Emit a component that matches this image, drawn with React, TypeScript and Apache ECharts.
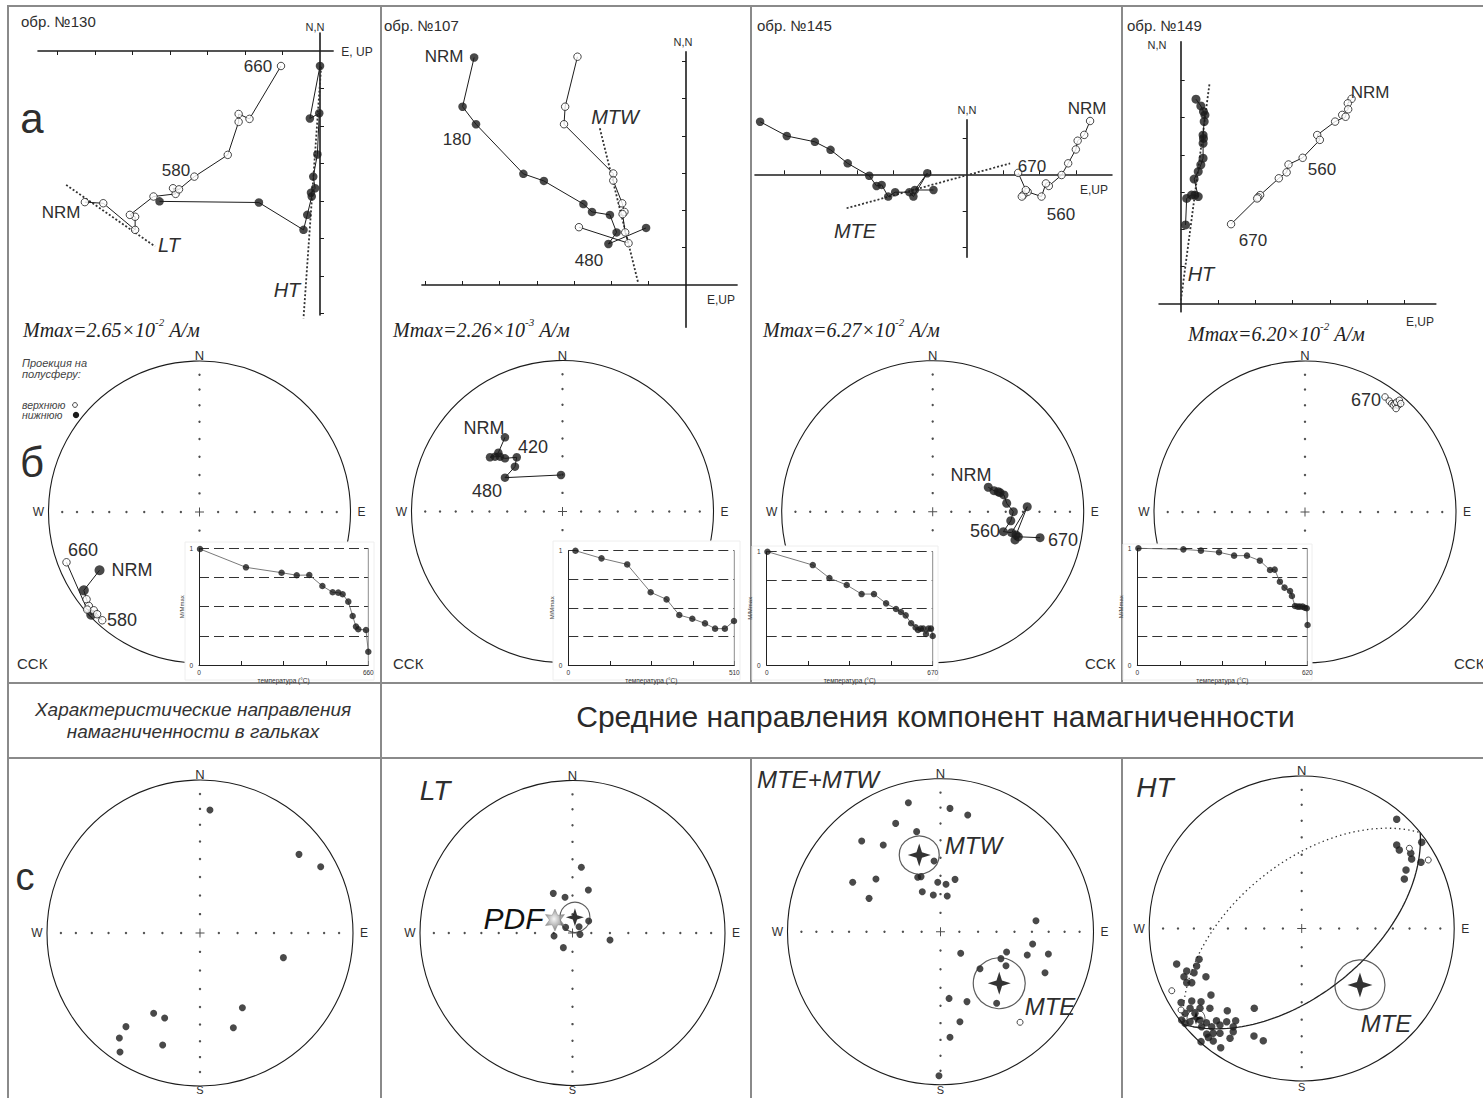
import React, { useEffect, useRef } from 'react';
import * as echarts from 'echarts';

/* ======================= DATA ======================= */
const sampleLabels = ['обр. №130', 'обр. №107', 'обр. №145', 'обр. №149'];
const mmaxMantissa = ['2.65', '2.26', '6.27', '6.20'];
const mmaxExponent = ['-2', '-3', '-2', '-2'];

// Zijderveld diagrams, tick units: x = E (filled) / UP (open), y = N
const zij130Filled = [[-4.28,-4.01],[-1.63,-4.04],[-0.44,-4.77],[-0.34,-4.37],[-0.22,-3.88],[-0.24,-3.78],[-0.13,-3.66],[-0.18,-3.35],[-0.07,-2.76],[-0.02,-1.66],[-0.27,-1.80],[0,-0.40]];
const zij130Open = [[-6.27,-4.03],[-5.78,-4.06],[-4.93,-4.77],[-4.93,-4.42],[-5.07,-4.37],[-4.44,-3.88],[-3.85,-3.81],[-3.92,-3.66],[-3.76,-3.69],[-3.35,-3.35],[-2.46,-2.77],[-2.17,-1.89],[-2.17,-1.68],[-1.88,-1.81],[-1.04,-0.40]];
const zij130FitLT = [[-6.77,-3.57],[-4.40,-5.21]];
const zij130FitHT = [[0.03,-0.42],[-0.44,-7.13]];
const zij130TicksE = [-7,-6,-5,-4,-3,-2,-1];
const zij130TicksN = [-7,-6,-5,-4,-3,-2,-1];

const zij107Filled = [[-5.68,6.10],[-5.99,4.78],[-5.63,4.31],[-4.36,2.98],[-3.81,2.79],[-2.75,2.17],[-2.52,1.96],[-2.04,1.88],[-1.86,1.41],[-2.08,1.10],[-1.07,1.53]];
const zij107Open = [[-2.91,6.12],[-3.24,4.78],[-3.27,4.31],[-1.95,2.99],[-1.95,2.80],[-1.71,2.19],[-1.65,1.96],[-1.70,1.90],[-1.63,1.41],[-1.54,1.12],[-2.87,1.55]];
const zij107FitMTW = [[-2.31,4.20],[-1.28,0.05]];
const zij107TicksE = [-7,-6,-5,-4,-3,-2,-1];
const zij107TicksN = [1,2,3,4,5,6];

const zij145Filled = [[-5.66,1.44],[-4.93,1.05],[-4.16,0.89],[-3.73,0.67],[-3.26,0.30],[-2.67,-0.04],[-2.47,-0.32],[-2.33,-0.29],[-2.15,-0.61],[-1.96,-0.49],[-1.57,-0.49],[-1.46,-0.61],[-1.08,0.03],[-1.42,-0.43],[-0.91,-0.43]];
const zij145Open = [[3.38,1.46],[3.22,1.08],[3.04,0.92],[2.99,0.68],[2.78,0.30],[2.60,-0.02],[2.25,-0.32],[2.17,-0.25],[2.05,-0.61],[1.67,-0.48],[1.55,-0.57],[1.51,-0.61],[1.62,-0.43],[1.41,0.04]];
const zij145FitMTE = [[-3.29,-0.93],[1.19,0.30]];
const zij145TicksE = [-5,-4,-3,-2,-1,1,2,3];
const zij145TicksN = [-2,-1,1];

const zij149Filled = [[0.41,5.49],[0.54,5.31],[0.61,5.16],[0.65,5.07],[0.63,4.89],[0.60,4.53],[0.61,4.44],[0.60,4.31],[0.60,3.91],[0.54,3.73],[0.47,3.55],[0.36,3.35],[0.47,2.88],[0.38,2.92],[0.29,2.92],[0.16,2.83],[0.13,2.12]];
const zij149Open = [[4.58,5.50],[4.48,5.38],[4.49,5.22],[4.33,5.07],[4.42,5.02],[4.14,4.89],[3.66,4.53],[3.73,4.40],[3.27,3.92],[2.89,3.74],[2.84,3.53],[2.63,3.37],[2.13,2.92],[2.08,2.86],[2.05,2.83],[1.35,2.14]];
const zij149FitHT = [[0.77,5.89],[0,0.06]];
const zij149TicksE = [1,2,3,4,5,6];
const zij149TicksN = [1,2,3,4,5,6];

// Stereonet steps (net radii): [x(E), y(N), hemisphere 1 = lower/filled, 0 = upper/open]
const net130Steps = [[-0.662,-0.386,1],[-0.766,-0.519,1],[-0.748,-0.578,0],[-0.733,-0.622,0],[-0.717,-0.680,1],[-0.700,-0.651,0],[-0.678,-0.677,0],[-0.644,-0.717,0],[-0.744,-0.646,0],[-0.881,-0.333,0]];
const net107Steps = [[-0.381,0.491,1],[-0.425,0.389,1],[-0.480,0.359,1],[-0.447,0.363,1],[-0.414,0.363,1],[-0.381,0.352,1],[-0.303,0.359,1],[-0.315,0.297,1],[-0.381,0.224,1],[-0.010,0.242,1]];
const net145Steps = [[0.368,0.162,1],[0.406,0.139,1],[0.434,0.132,1],[0.446,0.126,1],[0.472,0.111,1],[0.490,0.056,1],[0.534,0.0,1],[0.517,-0.060,1],[0.468,-0.132,1],[0.523,-0.139,1],[0.626,0.033,1],[0.552,-0.154,1],[0.545,-0.187,1],[0.567,-0.166,1],[0.711,-0.172,1]];
const net149Steps = [[0.530,0.762,0],[0.558,0.735,0],[0.574,0.718,0],[0.585,0.707,0],[0.596,0.718,0],[0.618,0.707,0],[0.607,0.728,0],[0.625,0.740,0],[0.634,0.718,0],[0.603,0.685,0]];

// Thermal demagnetisation curves: temperature (°C) and M/Mmax
const demagMaxTemp = [660, 510, 670, 620];
const demag130T = [4,183,322,381,430,481,521,543,560,582,599,612,621,651,660];
const demag130M = [0.994,0.837,0.791,0.769,0.771,0.677,0.623,0.62,0.606,0.543,0.42,0.329,0.306,0.30,0.114];
const demag107T = [22,102,181,253,302,341,381,420,451,481,509];
const demag107M = [1.0,0.933,0.88,0.636,0.574,0.437,0.405,0.364,0.318,0.318,0.385];
const demag145T = [3,186,253,323,383,433,482,522,542,561,583,601,611,622,632,643,653,663,670];
const demag145M = [1.0,0.882,0.768,0.706,0.626,0.626,0.544,0.494,0.468,0.438,0.368,0.332,0.309,0.321,0.321,0.274,0.321,0.321,0.256];
const demag149T = [4,168,232,298,353,400,447,484,501,520,537,557,564,575,585,593,603,611,618,621];
const demag149M = [1.0,0.991,0.98,0.966,0.937,0.937,0.894,0.814,0.817,0.714,0.663,0.634,0.591,0.506,0.5,0.5,0.5,0.491,0.486,0.343];

// Bottom row stereonets (net radii)
const cobbleDirections = [[0.065,0.804],[0.647,0.514],[0.789,0.433],[0.545,-0.161],[0.277,-0.488],[0.218,-0.619],[-0.303,-0.525],[-0.231,-0.556],[-0.484,-0.612],[-0.527,-0.686],[-0.523,-0.778],[-0.244,-0.732]];
const ltDirections = [[0.058,0.431],[0.104,0.282],[-0.126,0.26],[-0.049,0.234],[0.106,0.079],[0.043,0.041],[-0.045,0.037],[0.049,-0.009],[-0.121,-0.02],[0.246,-0.046],[-0.060,-0.096]];
const ltMean = [[0.016,0.103]];
const pdfDirection = [[-0.115,0.085]];
const mtLower = [[-0.210,0.843],[0.062,0.806],[0.178,0.763],[-0.293,0.708],[-0.156,0.654],[-0.515,0.593],[-0.374,0.567],[-0.042,0.462],[-0.574,0.323],[-0.422,0.344],[-0.149,0.356],[-0.127,0.36],[-0.018,0.323],[0.036,0.310],[0.095,0.342],[-0.467,0.218],[-0.119,0.261],[-0.047,0.240],[0.044,0.233],[0.624,0.072],[0.602,-0.080],[0.432,-0.133],[0.132,-0.141],[0.567,-0.152],[0.705,-0.146],[0.395,-0.176],[0.428,-0.222],[0.258,-0.242],[0.683,-0.268],[0.056,-0.436],[0.173,-0.457],[0.367,-0.468],[0.127,-0.588],[0.062,-0.690],[-0.010,-0.941]];
const mtUpper = [[0.520,-0.592]];
const mtwMean = [[-0.139,0.501]];
const mteMean = [[0.384,-0.337]];
const htLower = [[0.623,0.716],[0.787,0.565],[0.623,0.548],[0.640,0.515],[0.715,0.493],[0.721,0.456],[0.782,0.434],[0.684,0.384],[0.673,0.325],
  [-0.820,-0.233],[-0.673,-0.202],[-0.689,-0.246],[-0.754,-0.279],[-0.772,-0.316],[-0.706,-0.290],[-0.628,-0.316],[-0.754,-0.355],[-0.721,-0.355],[-0.595,-0.436],[-0.791,-0.486],[-0.721,-0.475],[-0.660,-0.480],[-0.732,-0.523],[-0.667,-0.523],[-0.602,-0.523],[-0.765,-0.556],[-0.700,-0.556],[-0.488,-0.539],[-0.311,-0.523],[-0.787,-0.600],[-0.765,-0.622],[-0.732,-0.611],[-0.667,-0.600],[-0.625,-0.618],[-0.559,-0.605],[-0.492,-0.611],[-0.433,-0.605],[-0.656,-0.644],[-0.590,-0.644],[-0.536,-0.633],[-0.449,-0.644],[-0.623,-0.692],[-0.580,-0.687],[-0.536,-0.687],[-0.449,-0.677],[-0.612,-0.714],[-0.470,-0.720],[-0.660,-0.742],[-0.580,-0.738],[-0.531,-0.782],[-0.313,-0.705],[-0.252,-0.736]];
const htUpper = [[0.706,0.526],[0.830,0.449],[-0.852,-0.408],[-0.791,-0.534]];
const htMean = [[-0.693,-0.589]];
const htPanelMteMean = [[0.382,-0.370]];
const htGreatCirclePole = { dec: 321, inc: 35 };
const netGraticuleInc = [80, 70, 60, 50, 40, 30, 20, 10];

/* ======================= LAYOUT / STYLE ======================= */
const SANS = '"Liberation Sans", Arial, sans-serif';
const SERIF = '"Liberation Serif", "Times New Roman", serif';
const INK = '#1c1c1c';
const TXT = '#2e2e2e';
const FRAME = '#8a8a8a';

const zijFrames = [
  { ox: 320, oy: 51, unit: 37.5, xr: [-7.52, 0.35], yr: [-7.04, 0.48], xIn: false, yIn: true },
  { ox: 686, oy: 285, unit: 37.3, xr: [-7.08, 1.37], yr: [-1.13, 6.25], xIn: true, yIn: false },
  { ox: 966.7, oy: 174.3, unit: 36.5, xr: [-5.8, 3.98], yr: [-2.27, 1.49], xIn: true, yIn: false },
  { ox: 1180.7, oy: 304, unit: 37.3, xr: [-0.58, 6.84], yr: [-0.21, 7.03], xIn: true, yIn: true },
];
const topNets = [
  { cx: 199.5, cy: 512, R: 151 }, { cx: 562.5, cy: 511.5, R: 151 },
  { cx: 932.7, cy: 511.7, R: 151 }, { cx: 1305, cy: 512, R: 151 },
];
const bottomNets = [
  { cx: 200, cy: 933, R: 153 }, { cx: 572.5, cy: 933, R: 152.5 },
  { cx: 940.5, cy: 931.7, R: 153 }, { cx: 1301.7, cy: 928.5, R: 152.5 },
];
const insets = [
  { left: 199, top: 548.3, width: 169.3, height: 116.7, bg: [185, 542, 189, 138] },
  { left: 568.3, top: 550.7, width: 166, height: 114.3, bg: [553, 541, 187, 139] },
  { left: 766.7, top: 551.7, width: 166, height: 113.3, bg: [752, 546, 186, 134] },
  { left: 1137.3, top: 548.3, width: 170, height: 116.7, bg: [1123, 544, 189, 136] },
];

const STAR4 = 'path://M10,0 L12.4,7.6 L20,10 L12.4,12.4 L10,20 L7.6,12.4 L0,10 L7.6,7.6 Z';
const STAR6 = 'path://M10,0 L12.5,5.67 L18.66,5 L15,10 L18.66,15 L12.5,14.33 L10,20 L7.5,14.33 L1.34,15 L5,10 L1.34,5 L7.5,5.67 Z';
const PLUS = 'path://M4.45,0H5.55V4.45H10V5.55H5.55V10H4.45V5.55H0V4.45H4.45Z';

function projectVector(v: number[]) {
  const dec = Math.atan2(v[1], v[0]);
  const inc = Math.asin(Math.min(1, Math.abs(v[2])));
  const r = Math.SQRT2 * Math.sin((Math.PI / 2 - inc) / 2);
  return [r * Math.sin(dec), r * Math.cos(dec)];
}
function greatCircle(poleDec: number, poleInc: number) {
  const d = Math.PI / 180, D = poleDec * d, I = poleInc * d;
  const p = [Math.cos(I) * Math.cos(D), Math.cos(I) * Math.sin(D), Math.sin(I)];
  const a = [-Math.sin(D), Math.cos(D), 0];
  let b = [p[1] * a[2] - p[2] * a[1], p[2] * a[0] - p[0] * a[2], p[0] * a[1] - p[1] * a[0]];
  if (b[2] < 0) b = b.map((x) => -x);
  const lower: number[][] = [], upper: number[][] = [];
  for (let t = 0; t <= 360; t += 2) {
    const c = Math.cos(t * d), s = Math.sin(t * d);
    const v = [c * a[0] + s * b[0], c * a[1] + s * b[1], c * a[2] + s * b[2]];
    const pt = projectVector(v);
    if (t <= 180) lower.push(pt);
    if (t >= 180) upper.push(pt);
  }
  return { lower, upper };
}

function buildOption() {
  const grid: any[] = [], xAxis: any[] = [], yAxis: any[] = [], series: any[] = [], graphic: any[] = [];
  const addGrid = (l: number, t: number, w: number, h: number, xa: any, ya: any) => {
    const i = grid.length;
    grid.push({ left: l, top: t, width: w, height: h, containLabel: false, show: false });
    xAxis.push({ gridIndex: i, ...xa });
    yAxis.push({ gridIndex: i, ...ya });
    return i;
  };
  const hidden = () => ({ type: 'value', min: -1, max: 1, show: false });
  const text = (x: number, y: number, str: string, size: number, o: any = {}) => {
    const align = o.align || 'center';
    graphic.push({
      type: 'text', x, y, z: 30, silent: true,
      style: {
        text: str, fill: o.color || TXT,
        font: `${o.italic ? 'italic ' : ''}${size}px ${o.family || SANS}`,
        textAlign: align, align, textVerticalAlign: 'middle', verticalAlign: 'middle',
      },
    });
  };
  const gline = (x1: number, y1: number, x2: number, y2: number, stroke = FRAME, w = 2, z = 1) =>
    graphic.push({ type: 'line', silent: true, z, shape: { x1, y1, x2, y2 }, style: { stroke, lineWidth: w } });
  const scatter = (gi: number, data: any[], o: any) =>
    series.push({
      type: 'scatter', xAxisIndex: gi, yAxisIndex: gi, data, clip: false, silent: true,
      symbol: o.symbol || 'circle', symbolSize: o.size, itemStyle: o.style, z: o.z ?? 6,
    });
  const line = (gi: number, data: any[], o: any = {}) =>
    series.push({
      type: 'line', xAxisIndex: gi, yAxisIndex: gi, data, clip: false, silent: true, symbol: 'none',
      lineStyle: { color: o.color || INK, width: o.width || 1, type: o.type || 'solid' }, z: o.z ?? 4,
    });
  const filledStyle = { color: INK };
  const openStyle = { color: '#fff', borderColor: INK, borderWidth: 1 };

  /* ---------- frame ---------- */
  gline(8, 6, 1483, 6); gline(8, 5, 8, 1098);
  gline(381, 6, 381, 1098);
  gline(751, 6, 751, 683); gline(751, 758, 751, 1098);
  gline(1122, 6, 1122, 683); gline(1122, 758, 1122, 1098);
  gline(8, 683, 1483, 683); gline(8, 758, 1483, 758);

  /* ---------- Zijderveld diagrams ---------- */
  const zAxis = (r: number[], ticks: number[], inside: boolean) => ({
    type: 'value', min: r[0], max: r[1], z: 2,
    axisLine: { show: true, onZero: true, lineStyle: { color: INK, width: 1.6 } },
    axisTick: { show: true, customValues: ticks, inside, length: 4, lineStyle: { color: INK, width: 1 } },
    axisLabel: { show: false }, splitLine: { show: false },
  });
  const zijSets = [
    { f: zij130Filled, o: zij130Open, fits: [zij130FitLT, zij130FitHT], te: zij130TicksE, tn: zij130TicksN },
    { f: zij107Filled, o: zij107Open, fits: [zij107FitMTW], te: zij107TicksE, tn: zij107TicksN },
    { f: zij145Filled, o: zij145Open, fits: [zij145FitMTE], te: zij145TicksE, tn: zij145TicksN },
    { f: zij149Filled, o: zij149Open, fits: [zij149FitHT], te: zij149TicksE, tn: zij149TicksN },
  ];
  zijSets.forEach((s, k) => {
    const c = zijFrames[k];
    const gi = addGrid(c.ox + c.xr[0] * c.unit, c.oy - c.yr[1] * c.unit,
      (c.xr[1] - c.xr[0]) * c.unit, (c.yr[1] - c.yr[0]) * c.unit,
      zAxis(c.xr, s.te, c.xIn), zAxis(c.yr, s.tn, c.yIn));
    s.fits.forEach((f) => line(gi, f, { type: [2, 2], width: 1.8, color: '#333', z: 3 }));
    line(gi, s.f, { z: 4 });
    line(gi, s.o, { z: 4 });
    scatter(gi, s.f, { size: k === 3 ? 9 : 8.5, style: filledStyle, z: 6 });
    scatter(gi, s.o, { size: 7.5, style: openStyle, z: 7 });
  });

  // titles & labels of the top row
  const titleY = [21, 25, 25, 25];
  const titleX = [21, 384, 757, 1127];
  sampleLabels.forEach((s, k) => text(titleX[k], titleY[k], s, 15, { align: 'left' }));
  const mmaxX = [23, 393, 763, 1188];
  const mmaxY = [328, 328, 328, 332];
  mmaxMantissa.forEach((m, k) => {
    graphic.push({
      type: 'text', x: mmaxX[k], y: mmaxY[k], z: 30, silent: true,
      style: {
        text: `{a|Mmax=${m}×10}{s|${mmaxExponent[k]}}{a| А/м}`,
        textAlign: 'left', align: 'left', textVerticalAlign: 'middle', verticalAlign: 'middle',
        fill: '#222',
        rich: {
          a: { fontFamily: SERIF, fontStyle: 'italic', fontSize: 20, lineHeight: 24, verticalAlign: 'bottom', fill: '#222' },
          s: { fontFamily: SERIF, fontStyle: 'italic', fontSize: 11, lineHeight: 13, verticalAlign: 'top', fill: '#222' },
        },
      },
    });
  });
  // panel 1
  text(32, 118, 'а', 42);
  text(315, 27, 'N,N', 11); text(357, 52, 'E, UP', 12);
  text(258, 66, '660', 17); text(176, 170, '580', 17); text(61, 212, 'NRM', 17);
  text(169, 245, 'LT', 20, { italic: true }); text(287, 290, 'HT', 20, { italic: true });
  // panel 2
  text(683, 42, 'N,N', 11); text(721, 300, 'E,UP', 12);
  text(444, 56, 'NRM', 17); text(457, 139, '180', 17);
  text(615, 117, 'MTW', 20, { italic: true }); text(589, 260, '480', 17);
  // panel 3
  text(967, 110, 'N,N', 11); text(1094, 190, 'E,UP', 12);
  text(1087, 108, 'NRM', 17); text(1032, 166, '670', 17); text(1061, 214, '560', 17);
  text(855, 231, 'MTE', 20, { italic: true });
  // panel 4
  text(1157, 45, 'N,N', 11); text(1420, 322, 'E,UP', 12);
  text(1370, 92, 'NRM', 17); text(1322, 169, '560', 17); text(1253, 240, '670', 17);
  text(1201, 274, 'HT', 20, { italic: true });

  /* ---------- stereonet helpers ---------- */
  const eqArea = (inc: number) => Math.SQRT2 * Math.sin(((90 - inc) * Math.PI) / 360);
  const graticule: number[][] = [];
  netGraticuleInc.forEach((inc) => {
    const r = eqArea(inc);
    graticule.push([r, 0], [-r, 0], [0, r], [0, -r]);
  });
  const addNet = (n: any, withS: boolean) => {
    const gi = addGrid(n.cx - n.R, n.cy - n.R, 2 * n.R, 2 * n.R, hidden(), hidden());
    graphic.push({ type: 'circle', silent: true, z: 1, shape: { cx: n.cx, cy: n.cy, r: n.R }, style: { fill: 'none', stroke: INK, lineWidth: 1.1 } });
    scatter(gi, graticule, { size: 2.4, style: { color: '#222' }, z: 2 });
    scatter(gi, [[0, 0]], { symbol: PLUS, size: 9, style: { color: '#222' }, z: 2 });
    text(n.cx, n.cy - n.R - 5.5, 'N', 13);
    text(n.cx - n.R - 10, n.cy, 'W', 12);
    text(n.cx + n.R + 11, n.cy, 'E', 12);
    if (withS) text(n.cx, Math.min(n.cy + n.R + 6, 1090), 'S', 11);
    return gi;
  };
  const xy = (a: number[][]) => a.map((p) => [p[0], p[1]]);

  /* ---------- top-row stereonets ---------- */
  const netSteps = [net130Steps, net107Steps, net145Steps, net149Steps];
  const netSizes = [[10, 7.5], [8.5, 7], [9, 7], [9, 6.5]];
  netSteps.forEach((steps, k) => {
    const gi = addNet(topNets[k], false);
    line(gi, xy(steps), { width: 1, z: 4 });
    scatter(gi, xy(steps.filter((p) => p[2] === 1)), { size: netSizes[k][0], style: filledStyle, z: 6 });
    scatter(gi, xy(steps.filter((p) => p[2] === 0)), { size: netSizes[k][1], style: openStyle, z: 7 });
  });
  text(83, 550, '660', 18); text(132, 570, 'NRM', 18); text(122, 620, '580', 18);
  text(484, 428, 'NRM', 18); text(533, 447, '420', 18); text(487, 491, '480', 18);
  text(971, 475, 'NRM', 18); text(985, 531, '560', 18); text(1063, 540, '670', 18);
  text(1366, 400, '670', 18);
  // legend of panel 1
  text(22, 363, 'Проекция на', 11, { align: 'left', italic: true, color: '#444' });
  text(22, 374, 'полусферу:', 11, { align: 'left', italic: true, color: '#444' });
  text(22, 405, 'верхнюю', 10.5, { align: 'left', italic: true, color: '#444' });
  text(22, 415, 'нижнюю', 10.5, { align: 'left', italic: true, color: '#444' });
  graphic.push({ type: 'circle', silent: true, z: 30, shape: { cx: 75, cy: 405, r: 2.4 }, style: { fill: '#fff', stroke: '#333', lineWidth: 0.9 } });
  graphic.push({ type: 'circle', silent: true, z: 30, shape: { cx: 76, cy: 415, r: 3.2 }, style: { fill: INK } });
  text(32, 462, 'б', 42);
  text(17, 663, 'ССК', 15, { align: 'left' });
  text(393, 663, 'ССК', 15, { align: 'left' });
  text(1085, 663, 'ССК', 15, { align: 'left' });
  text(1454, 663, 'ССК', 15, { align: 'left' });

  /* ---------- demagnetisation insets ---------- */
  const demag = [[demag130T, demag130M], [demag107T, demag107M], [demag145T, demag145M], [demag149T, demag149M]];
  demag.forEach(([T, M], k) => {
    const c = insets[k];
    const tMax = demagMaxTemp[k];
    graphic.push({ type: 'rect', silent: true, z: 3, shape: { x: c.bg[0], y: c.bg[1], width: c.bg[2], height: c.bg[3] }, style: { fill: '#fff', stroke: '#eeeeee', lineWidth: 1 } });
    const gi = addGrid(c.left, c.top, c.width, c.height,
      {
        type: 'value', min: 0, max: tMax, interval: tMax / 4, z: 6,
        axisLine: { onZero: false, lineStyle: { color: '#222', width: 1 } },
        axisTick: { show: true, inside: true, length: 4, lineStyle: { color: '#222' } },
        axisLabel: { customValues: [0, tMax], fontSize: 6.5, color: '#333', margin: 4, fontFamily: SANS },
        splitLine: { show: false },
        name: 'температура (°C)', nameLocation: 'middle', nameGap: 8,
        nameTextStyle: { fontSize: 6.5, color: '#333', fontFamily: SANS },
      },
      {
        type: 'value', min: 0, max: 1, interval: 0.25, z: 6,
        axisLine: { onZero: false, lineStyle: { color: '#222', width: 1 } },
        axisTick: { show: false },
        axisLabel: { customValues: [0, 1], fontSize: 6.5, color: '#333', margin: 6, fontFamily: SANS },
        splitLine: { show: true, lineStyle: { type: [10, 5], color: '#333', width: 1 } },
        name: 'M/Mmax', nameLocation: 'middle', nameGap: 5, nameRotate: 90,
        nameTextStyle: { fontSize: 6, color: '#444', fontFamily: SANS },
      });
    graphic.push({ type: 'line', silent: true, z: 7, shape: { x1: c.left + c.width, y1: c.top, x2: c.left + c.width, y2: c.top + c.height }, style: { stroke: '#8c8c8c', lineWidth: 1 } });
    const data = T.map((t, i) => [t, M[i]]);
    line(gi, data, { color: '#6a6a6a', width: 0.9, z: 7 });
    scatter(gi, data, { size: 6.5, style: filledStyle, z: 8 });
  });

  /* ---------- title row ---------- */
  text(193, 709, 'Характеристические направления', 19, { italic: true, color: '#333' });
  text(193, 731, 'намагниченности в гальках', 19, { italic: true, color: '#333' });
  text(935.5, 716, 'Средние направления компонент намагниченности', 30, { color: '#2a2a2a' });

  /* ---------- bottom-row stereonets ---------- */
  const b1 = addNet(bottomNets[0], true);
  scatter(b1, cobbleDirections, { size: 7, style: filledStyle });
  text(25, 877, 'с', 38);

  const b2 = addNet(bottomNets[1], true);
  scatter(b2, ltDirections, { size: 7, style: filledStyle });
  scatter(b2, ltMean, { size: 30, style: { color: 'transparent', borderColor: '#333', borderWidth: 1.1 }, z: 8 });
  scatter(b2, ltMean, { symbol: STAR4, size: 18, style: { color: '#000' }, z: 9 });
  scatter(b2, pdfDirection, {
    symbol: STAR6, size: [19, 22], z: 9,
    style: { color: new echarts.graphic.RadialGradient(0.45, 0.45, 0.6, [{ offset: 0, color: '#f2f2f2' }, { offset: 1, color: '#5e5e5e' }]), borderColor: '#777', borderWidth: 0.5 },
  });
  text(435, 790, 'LT', 28, { italic: true });
  text(513.5, 918.5, 'PDF', 30, { italic: true, color: '#111' });

  const b3 = addNet(bottomNets[2], true);
  scatter(b3, mtLower, { size: 7, style: filledStyle });
  scatter(b3, mtUpper, { size: 6, style: openStyle });
  scatter(b3, mtwMean, { size: [40, 38], style: { color: 'transparent', borderColor: '#333', borderWidth: 1.2 }, z: 8 });
  scatter(b3, mteMean, { size: [52, 51], style: { color: 'transparent', borderColor: '#333', borderWidth: 1.2 }, z: 8 });
  scatter(b3, mtwMean, { symbol: STAR4, size: 23, style: { color: '#000' }, z: 9 });
  scatter(b3, mteMean, { symbol: STAR4, size: 23, style: { color: '#000' }, z: 9 });
  text(757, 779, 'MTE+MTW', 24, { italic: true, align: 'left' });
  text(973.5, 845, 'MTW', 24, { italic: true });
  text(1050, 1006, 'MTE', 24, { italic: true });

  const b4 = addNet(bottomNets[3], true);
  const gc = greatCircle(htGreatCirclePole.dec, htGreatCirclePole.inc);
  line(b4, gc.lower, { width: 1.3, color: '#222', z: 3 });
  line(b4, gc.upper, { width: 1.3, color: '#333', type: [1.4, 3.2], z: 3 });
  scatter(b4, htLower, { size: 7.5, style: filledStyle });
  scatter(b4, htUpper, { size: 6, style: openStyle, z: 7 });
  scatter(b4, htMean, { size: 18, style: { color: 'transparent', borderColor: '#333', borderWidth: 1 }, z: 8 });
  scatter(b4, htMean, { symbol: STAR4, size: 13, style: { color: '#000' }, z: 9 });
  scatter(b4, htPanelMteMean, { size: 50, style: { color: 'transparent', borderColor: '#333', borderWidth: 1.2 }, z: 8 });
  scatter(b4, htPanelMteMean, { symbol: STAR4, size: 25, style: { color: '#000' }, z: 9 });
  text(1155, 787, 'HT', 28, { italic: true });
  text(1386, 1023, 'MTE', 24, { italic: true });

  return {
    animation: false,
    backgroundColor: '#fff',
    textStyle: { fontFamily: SANS },
    grid, xAxis, yAxis, series, graphic,
  };
}

export default function App() {
  const ref = useRef<HTMLDivElement>(null);
  useEffect(() => {
    if (!ref.current) return;
    const chart = echarts.init(ref.current, null, { renderer: 'svg' });
    chart.setOption(buildOption() as any);
    return () => chart.dispose();
  }, []);
  return (
    <div
      ref={ref}
      style={{ position: 'absolute', left: 0, top: 0, width: 1483, height: 1098, background: '#fff' }}
    />
  );
}
